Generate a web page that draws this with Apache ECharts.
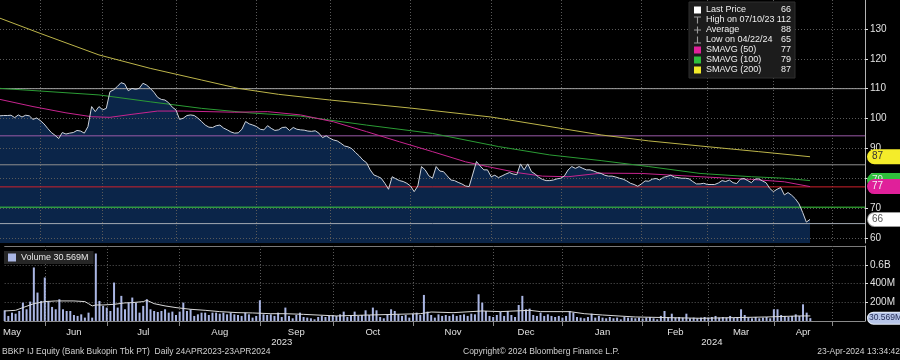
<!DOCTYPE html>
<html><head><meta charset="utf-8">
<script src="https://cdn.jsdelivr.net/npm/echarts@6/dist/echarts.min.js"></script>
<style>html,body{margin:0;padding:0;background:#000}#c{width:900px;height:360px}</style>
</head><body><div id="c"></div><script>
// ---------- DATA ----------
const monthNames = ['May','Jun','Jul','Aug','Sep','Oct','Nov','Dec','Jan','Feb','Mar','Apr','May'];
const monthYears = [2023,2023,2023,2023,2023,2023,2023,2023,2024,2024,2024,2024,2024];
const monthTradingDays = [11,17,20,22,20,22,22,19,22,18,18,16,10];
const yearNames = ['2023','2024'];

const price = [
100.9,101.0,101.0,101.1,100.3,101.2,100.5,101.1,100.9,99.7,
100.2,99.3,98.2,96.7,95.3,94.4,93.3,95.3,94.8,95.1,
95.3,96.0,95.8,95.1,97.3,104.0,102.3,104.0,102.9,103.4,
109.0,109.6,110.7,112.0,111.6,109.3,110.1,109.8,110.1,111.8,
111.2,110.1,108.8,107.1,106.4,106.2,105.3,103.8,102.9,99.7,
100.1,101.0,101.2,101.0,100.1,99.0,97.8,97.1,97.0,97.6,
97.8,96.8,96.2,95.5,95.1,95.2,96.4,99.0,98.2,97.8,
97.3,96.4,96.2,97.6,96.7,96.0,96.2,97.0,97.1,96.0,
97.0,96.4,96.2,96.1,95.8,95.7,95.9,95.1,93.6,94.2,
93.4,92.8,92.5,91.7,90.8,90.5,89.9,88.6,87.5,86.1,
85.2,82.8,81.1,80.6,80.0,78.3,76.3,80.5,79.8,79.2,
78.9,78.3,77.4,75.5,77.4,83.9,82.8,80.8,80.0,83.9,
82.4,82.2,80.8,79.4,79.2,78.6,78.1,77.4,77.2,81.4,
85.6,84.1,82.8,82.8,80.5,81.0,80.2,80.8,81.4,81.9,
81.4,81.2,84.8,82.8,84.8,82.2,81.4,80.3,79.6,79.2,
79.2,79.4,79.8,80.0,80.8,82.8,83.9,83.3,83.9,83.3,
82.8,82.8,82.4,81.9,81.6,81.0,80.7,80.7,80.4,80.0,
79.7,79.1,78.3,77.9,77.3,78.1,79.1,79.0,79.7,79.9,
79.4,80.3,80.6,81.0,80.4,80.2,80.0,80.0,79.8,78.9,
78.1,78.1,78.3,77.9,77.9,77.9,78.4,79.2,78.9,79.4,
78.5,78.2,79.7,79.9,79.2,78.5,79.7,79.8,79.1,78.5,
76.6,75.5,76.3,76.9,74.4,75.2,74.3,73.1,71.4,68.5,
65.3,66.2
];
const sma200 = [[0,133.6],[11,128.5],[27,121.3],[41,116.8],[55,112.9],[65,110.1],[76,108.1],[90,106.2],[112,103.5],[134,100.5],[154,96.5],[164,94.5],[177,92.5],[191,90.8],[207,88.9],[221,87.2]];
const sma100 = [[0,110.1],[27,107.9],[41,105.6],[55,103.4],[68,101.9],[82,100.8],[100,97.8],[118,95.0],[136,90.6],[150,87.8],[164,85.9],[177,83.9],[191,81.6],[205,80.5],[214,80.0],[221,79.2]];
const sma50 = [[0,106.4],[9,104.0],[18,101.9],[25,100.6],[30,100.4],[36,101.4],[43,102.5],[50,102.5],[64,102.1],[73,102.3],[82,101.2],[91,98.9],[100,95.6],[109,92.2],[118,88.9],[127,85.5],[133,83.9],[141,81.9],[148,80.7],[155,80.5],[164,81.7],[175,81.6],[191,80.5],[205,79.6],[214,78.8],[221,77.2]];
const volume = [
114,54,89,78,107,196,125,207,571,303,
214,464,214,150,125,232,125,107,107,64,
54,71,36,89,36,720,214,161,143,107,
410,143,268,125,196,250,196,89,161,232,
125,107,96,107,125,89,100,64,100,196,
107,125,54,71,89,89,64,89,89,78,
89,71,89,71,64,54,89,71,36,54,
221,71,64,71,54,89,43,143,54,29,
64,89,43,36,29,18,43,54,43,54,
64,54,71,100,43,64,100,54,64,114,
64,143,114,43,29,71,125,107,71,54,
64,36,78,89,64,278,100,64,36,71,
54,64,54,71,54,64,71,54,78,71,
285,196,107,54,43,64,100,54,107,64,
43,171,268,125,132,64,54,89,54,71,
54,43,54,36,54,107,89,43,36,29,
43,78,36,54,36,29,43,29,36,18,
43,36,36,29,36,25,36,43,29,18,
54,107,43,78,36,43,36,78,29,36,
29,36,43,36,43,54,36,43,36,54,
36,43,125,64,36,29,43,29,36,43,
29,125,125,64,54,43,54,71,54,178,
89,30.569
];
const volumeSma = [[0,107],[3,114],[5,143],[8,185],[11,207],[14,214],[19,214],[22,207],[23,185],[24,161],[25,171],[27,171],[30,178],[33,193],[35,196],[38,207],[39,221],[41,185],[44,161],[47,143],[51,125],[55,114],[59,100],[64,89],[68,86],[73,78],[77,78],[82,71],[91,54],[100,64],[114,78],[117,96],[123,89],[131,107],[136,100],[144,114],[147,100],[155,100],[159,78],[164,64],[173,43],[182,36],[191,29],[200,36],[209,43],[218,54],[221,54]];
const levelValues = [110, 94.2, 84.5, 77.1, 70.3, 64.8];
const priceTicks = [60,70,80,90,100,110,120,130];
const volumeTicks = [200,400,600];
const legendNames = ['Last Price','High on 07/10/23','Average','Low on 04/22/24','SMAVG (50)','SMAVG (100)','SMAVG (200)'];
const legendValues = [66,112,88,65,77,79,87];
const volumeLegend = 'Volume 30.569M';
const volumeLast = '30.569M';
const footerLeft = 'BBKP IJ Equity (Bank Bukopin Tbk PT)  Daily 24APR2023-23APR2024';
const footerMid = 'Copyright\u00a9 2024 Bloomberg Finance L.P.';
const footerRight = '23-Apr-2024 13:34:42';

// ---------- STYLES ----------
const levelColors = ['#a2a2a2','#9a5aa8','#8f8f8f','#d0202c','#3fd13f','#a3a9b2'];
const C = {price:'#cfd3da', area:'#0b2549', s50:'#c8248f', s100:'#2b9c35', s200:'#bdb54a', vol:'#aab6e4', volSma:'#d9d9d9', grid:'#5a5a5a', text:'#e2e2e2'};
const FONT = 'Liberation Sans, Arial, sans-serif';

// ---------- BUILD ----------
const cats = []; const monthStart = [];
monthTradingDays.forEach((d, m) => { monthStart.push(cats.length); for (let k = 0; k < d; k++) cats.push(monthNames[m] + ' ' + monthYears[m] + ' #' + (k + 1)); });
const lastIdx = cats.length - 1;
const boundarySet = new Set(monthStart.slice(1));
const monthLabelAt = new Map();
for (let m = 0; m < monthNames.length - 1; m++) {
  const idx = m === 0 ? 2 : Math.floor(monthStart[m] + monthTradingDays[m] / 2);
  monthLabelAt.set(idx, monthNames[m]);
}
const firstOf2024 = monthYears.indexOf(2024);
const yearLabelAt = new Map([[Math.floor(monthStart[firstOf2024] / 2), yearNames[0]], [Math.floor((monthStart[firstOf2024] + lastIdx) / 2), yearNames[1]]]);

const dotted = {color: C.grid, type: [1, 2], width: 1};
function tag(value, bg, fg, text, border, fs, pad) {
  return {
    symbol: 'none', silent: true, animation: false,
    lineStyle: {color: 'rgba(0,0,0,0)', width: 0},
    label: {show: true, position: 'end', distance: 3, formatter: text, backgroundColor: bg, color: fg, opacity: 1,
      fontSize: fs || 10, fontFamily: FONT, padding: pad || [2, 20, 1, 4], borderRadius: [7, 0, 0, 7], borderColor: border || bg, borderWidth: 1},
    emphasis: {disabled: true},
    data: [{yAxis: value}]
  };
}
const last = a => { const v = a[a.length - 1]; return Array.isArray(v) ? v[1] : v; };

const legendValueOf = {}; legendNames.forEach((n, i) => legendValueOf[n] = legendValues[i]);
const iconT = 'path://M0,0h10v1.6h-10z M4.2,0h1.6v10h-1.6z';
const iconPlus = 'path://M0,4.2h10v1.6h-10z M4.2,0h1.6v10h-1.6z';
const iconLow = 'path://M0,8.4h10v1.6h-10z M4.2,0h1.6v10h-1.6z';

const levelSeries = levelValues.map((v, k) => ({
  name: 'level' + k, type: 'line', xAxisIndex: 0, yAxisIndex: 0, z: 4, silent: true,
  data: [[0, v], [lastIdx, v]], symbol: 'none',
  lineStyle: {color: levelColors[k], width: 1, type: 'solid'}, itemStyle: {color: levelColors[k]},
  emphasis: {disabled: true}
}));

const option = {
  backgroundColor: '#000', animation: false,
  textStyle: {fontFamily: FONT},
  title: [
    {text: footerLeft, left: 2, top: 347, padding: 0, textStyle: {color: '#d2d2d2', fontSize: 8.5, fontWeight: 'normal', fontFamily: FONT}},
    {text: footerMid, left: 463, top: 347, padding: 0, textStyle: {color: '#d2d2d2', fontSize: 8.5, fontWeight: 'normal', fontFamily: FONT}},
    {text: footerRight, right: 0, top: 347, padding: 0, textStyle: {color: '#d2d2d2', fontSize: 8.5, fontWeight: 'normal', fontFamily: FONT}}
  ],
  legend: [
    {
      orient: 'vertical', left: 689, top: 2, padding: [3, 4, 3, 5], itemGap: 0, itemWidth: 7, itemHeight: 7,
      backgroundColor: '#1c1c1c', borderColor: '#2e2e2e', borderWidth: 1,
      data: [
        {name: legendNames[0], icon: 'rect', itemStyle: {color: '#ffffff'}},
        {name: legendNames[1], icon: iconT, itemStyle: {color: '#9a9a9a'}},
        {name: legendNames[2], icon: iconPlus, itemStyle: {color: '#9a9a9a'}},
        {name: legendNames[3], icon: iconLow, itemStyle: {color: '#9a9a9a'}},
        {name: legendNames[4], icon: 'rect', itemStyle: {color: '#e0209a'}},
        {name: legendNames[5], icon: 'rect', itemStyle: {color: '#2fbf3c'}},
        {name: legendNames[6], icon: 'rect', itemStyle: {color: '#f2ea2a'}}
      ],
      formatter: n => '{n|' + n + '}{v|' + legendValueOf[n] + '}',
      textStyle: {color: '#eee', fontSize: 9, lineHeight: 10, fontFamily: FONT,
        rich: {n: {width: 72, fontSize: 9, lineHeight: 10, color: '#eee', fontFamily: FONT}, v: {width: 13, align: 'right', fontSize: 9, lineHeight: 10, color: '#eee', fontFamily: FONT}}}
    },
    {
      left: 4, top: 251, padding: [2, 5, 2, 4], itemWidth: 8, itemHeight: 8, backgroundColor: '#262626',
      data: [{name: 'Volume', icon: 'rect', itemStyle: {color: C.vol}}],
      formatter: () => volumeLegend,
      textStyle: {color: '#e6e6e6', fontSize: 9, fontFamily: FONT}
    }
  ],
  grid: [
    {left: 0, right: 35, top: 0, height: 243},
    {left: 0, right: 35, top: 246, height: 75}
  ],
  xAxis: [
    {gridIndex: 0, type: 'category', data: cats, boundaryGap: false, z: 3,
      axisLine: {show: false}, axisTick: {show: false}, axisLabel: {show: false},
      splitLine: {show: true, interval: i => boundarySet.has(i), lineStyle: dotted}},
    {gridIndex: 1, type: 'category', data: cats, boundaryGap: false, z: 3,
      axisLine: {show: true, lineStyle: {color: '#8a8a8a'}},
      axisTick: {show: true, interval: i => boundarySet.has(i), length: 5, lineStyle: {color: '#8a8a8a'}},
      axisLabel: {interval: i => monthLabelAt.has(i), formatter: (v, i) => monthLabelAt.get(i) || '', color: C.text, fontSize: 9.5, margin: 6},
      splitLine: {show: true, interval: i => boundarySet.has(i), lineStyle: dotted}},
    {gridIndex: 1, type: 'category', data: cats, boundaryGap: false, position: 'top',
      axisLine: {show: true, lineStyle: {color: '#7a7a7a', width: 1}}, axisTick: {show: false}, axisLabel: {show: false}, splitLine: {show: false}},
    {gridIndex: 1, type: 'category', data: cats, boundaryGap: false, position: 'bottom', offset: 10,
      axisLine: {show: false}, axisTick: {show: false}, splitLine: {show: false},
      axisLabel: {interval: i => yearLabelAt.has(i), formatter: (v, i) => yearLabelAt.get(i) || '', color: C.text, fontSize: 9.5, margin: 6}}
  ],
  yAxis: [
    {gridIndex: 0, type: 'value', position: 'right', min: 58.3, max: 139.7, z: 3,
      axisLine: {show: true, lineStyle: {color: '#b4b4b4'}},
      axisTick: {show: true, customValues: priceTicks, length: 3, lineStyle: {color: '#e0e0e0'}},
      axisLabel: {customValues: priceTicks, color: C.text, fontSize: 10, margin: 5},
      splitLine: {show: true, lineStyle: dotted}},
    {gridIndex: 1, type: 'value', position: 'right', min: 0, max: 800, z: 3,
      axisLine: {show: true, lineStyle: {color: '#b4b4b4'}},
      axisTick: {show: true, customValues: volumeTicks, length: 3, lineStyle: {color: '#e0e0e0'}},
      axisLabel: {customValues: volumeTicks, color: C.text, fontSize: 10, margin: 5, formatter: v => v >= 600 ? (v / 1000) + 'B' : v + 'M'},
      splitLine: {show: true, lineStyle: dotted}}
  ],
  series: [
    {name: 'area', type: 'line', xAxisIndex: 0, yAxisIndex: 0, data: price, symbol: 'none', z: 1,
      lineStyle: {width: 0}, areaStyle: {color: C.area, opacity: 1, origin: 'start'}, silent: true},
    ...levelSeries,
    {name: legendNames[6], type: 'line', xAxisIndex: 0, yAxisIndex: 0, data: sma200, symbol: 'none', z: 5, clip: false,
      color: C.s200, lineStyle: {color: C.s200, width: 1}, markLine: tag(last(sma200), '#f4ec2a', '#333', String(legendValues[6]))},
    {name: legendNames[5], type: 'line', xAxisIndex: 0, yAxisIndex: 0, data: sma100, symbol: 'none', z: 5, clip: false,
      color: C.s100, lineStyle: {color: C.s100, width: 1}, markLine: tag(last(sma100), '#2fbf3c', '#e8e8e8', String(legendValues[5]))},
    {name: legendNames[4], type: 'line', xAxisIndex: 0, yAxisIndex: 0, data: sma50, symbol: 'none', z: 6, clip: false,
      color: C.s50, lineStyle: {color: C.s50, width: 1}, markLine: tag(last(sma50), '#e0209a', '#f4f4f4', String(legendValues[4]))},
    {name: legendNames[0], type: 'line', xAxisIndex: 0, yAxisIndex: 0, data: price, symbol: 'none', z: 7, clip: false,
      color: C.price, lineStyle: {color: C.price, width: 1}, markLine: tag(last(price), '#ffffff', '#555', String(legendValues[0]), '#999')},
    {name: legendNames[1], type: 'line', data: []},
    {name: legendNames[2], type: 'line', data: []},
    {name: legendNames[3], type: 'line', data: []},
    {name: 'Volume', type: 'bar', xAxisIndex: 1, yAxisIndex: 1, data: volume, barWidth: 2, z: 4, clip: false,
      itemStyle: {color: C.vol}, markLine: tag(last(volume), '#b6c5e8', '#27305a', volumeLast, '#e8eef8', 8.5, [1, 6, 1, 1])},
    {name: 'volSma', type: 'line', xAxisIndex: 1, yAxisIndex: 1, data: volumeSma, symbol: 'none', z: 5,
      lineStyle: {color: C.volSma, width: 1}}
  ]
};
echarts.init(document.getElementById('c')).setOption(option);
</script></body></html>
